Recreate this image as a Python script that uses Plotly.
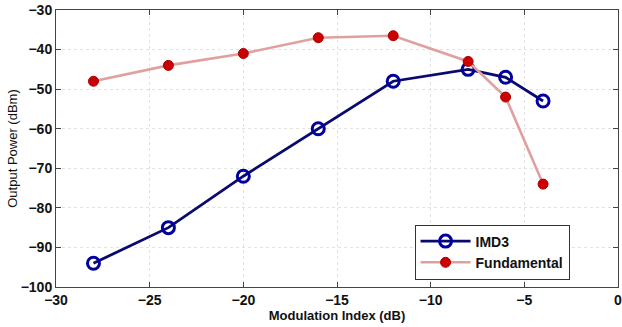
import plotly.graph_objects as go

x_vals = [-28, -24, -20, -16, -12, -8, -6, -4]
imd3 = [-94, -85, -72, -60, -48, -45, -47, -53]
fundamental = [-48, -44, -41, -37, -36.5, -43, -52, -74]

fig = go.Figure()
fig.add_trace(go.Scatter(
    x=x_vals, y=imd3, name="IMD3", mode="lines+markers",
    line=dict(color="#0a0a6e", width=2.8),
    marker=dict(symbol="circle-open", size=12, color="#0000a0", line=dict(width=3, color="#0000a0")),
))
fig.add_trace(go.Scatter(
    x=x_vals, y=fundamental, name="Fundamental", mode="lines+markers",
    line=dict(color="#e0a0a0", width=2.6, dash="solid"),
    marker=dict(symbol="circle", size=10, color="#cc0000", line=dict(width=1, color="#aa0000")),
))

tfont = dict(family="Liberation Sans, Arial", size=14, color="#111", weight="bold")
axis_common = dict(
    showline=True, linecolor="#444", linewidth=1, mirror="ticks",
    ticks="inside", ticklen=5, tickcolor="#444",
    showgrid=True, gridcolor="#e2e2e2", gridwidth=1, griddash="dot",
    zeroline=False, automargin=False, ticklabeloverflow="allow",
    tickfont=tfont,
)

fig.update_xaxes(range=[-30, 0], dtick=5, **axis_common,
                 title=dict(text="<b>Modulation Index (dB)</b>", font=dict(family="Liberation Sans, Arial", size=13, color="#111"), standoff=0))
fig.update_yaxes(range=[-100, -30], dtick=10, **axis_common,
                 title=dict(text="Output Power (dBm)", font=dict(family="Liberation Sans Narrow, Liberation Sans, Arial", size=13, color="#111"), standoff=0))

fig.update_layout(
    width=622, height=327,
    margin=dict(l=56, r=4, t=10, b=40),
    paper_bgcolor="white", plot_bgcolor="white",
    legend=dict(x=0.638, y=0.027, xanchor="left", yanchor="bottom",
                bgcolor="white", bordercolor="#333", borderwidth=1,
                font=dict(family="Liberation Sans, Arial", size=14, color="#111", weight="bold"),
                itemwidth=50, tracegroupgap=0),
    showlegend=True,
)

fig.write_html("out.html")
